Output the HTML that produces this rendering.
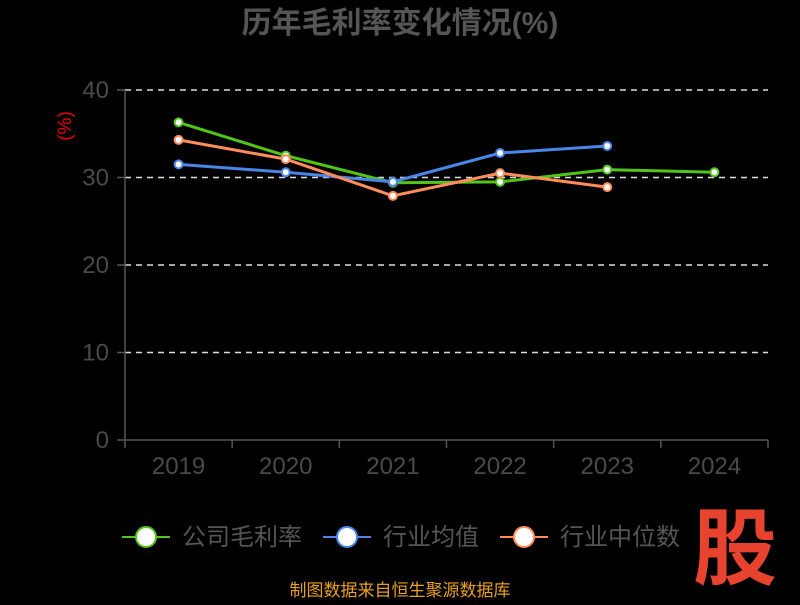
<!DOCTYPE html>
<html><head><meta charset="utf-8"><style>
body{margin:0;background:#000;width:800px;height:600px;overflow:hidden;font-family:"Liberation Sans","Noto Sans CJK SC",sans-serif}
</style></head><body>
<svg id="c" width="800" height="600" xmlns="http://www.w3.org/2000/svg">
<text x="400" y="33" text-anchor="middle" font-size="30" font-weight="bold" fill="#555">历年毛利率变化情况(%)</text>
<text transform="translate(66,126) rotate(-90)" text-anchor="middle" font-size="19" fill="#e00" dominant-baseline="middle">(%)</text>
<g id="grid"></g><g id="axes"></g><g id="series"></g>
<g>
 <g><line x1="122" y1="537" x2="170" y2="537" stroke="#52c41a" stroke-width="2"/><circle cx="146" cy="537" r="10" fill="#fff" stroke="#52c41a" stroke-width="2"/><text x="182" y="545" font-size="24" fill="#555">公司毛利率</text></g>
 <g><line x1="323" y1="537" x2="371" y2="537" stroke="#4a86e8" stroke-width="2"/><circle cx="347" cy="537" r="10" fill="#fff" stroke="#4a86e8" stroke-width="2"/><text x="383" y="545" font-size="24" fill="#555">行业均值</text></g>
 <g><line x1="500" y1="537" x2="548" y2="537" stroke="#ff8c5a" stroke-width="2"/><circle cx="524" cy="537" r="10" fill="#fff" stroke="#ff8c5a" stroke-width="2"/><text x="560" y="545" font-size="24" fill="#555">行业中位数</text></g>
</g>
<text x="735" y="578" text-anchor="middle" font-size="84" font-weight="bold" fill="#e8432e">股</text>
<text x="400" y="596" text-anchor="middle" font-size="17" fill="#e8a020">制图数据来自恒生聚源数据库</text>
</svg>
<script>
const categories=["2019","2020","2021","2022","2023","2024"];
const yTicks=[0,10,20,30,40];
const company=[36.3,32.5,29.4,29.5,30.9,30.6];
const industryMean=[31.5,30.6,29.5,32.8,33.6];
const industryMedian=[34.3,32.1,27.9,30.5,28.9];
const NS="http://www.w3.org/2000/svg";
const x0=125,x1=768,yBase=440,yTop=90,yMax=40;
const step=(x1-x0)/categories.length;
const xs=i=>x0+step*(i+0.5);
const ys=v=>yBase-(v/yMax)*(yBase-yTop);
function mk(t,a,p){const e=document.createElementNS(NS,t);for(const k in a)e.setAttribute(k,a[k]);p.appendChild(e);return e;}
const grid=document.getElementById('grid'),axes=document.getElementById('axes'),ser=document.getElementById('series');
yTicks.forEach(v=>{
 if(v>0){const l=mk('line',{x1:x0,x2:x1,y1:ys(v),y2:ys(v),stroke:'#ddd','stroke-width':1.5,'stroke-dasharray':'6,5'},grid);
 
 }
 const tk=mk('line',{x1:x0-8,x2:x0,y1:ys(v),y2:ys(v),stroke:'#555','stroke-width':1.5},axes);
 
 
 const t=mk('text',{x:x0-16,y:ys(v)+8,'text-anchor':'end','font-size':24,fill:'#4a4a4a'},axes);t.textContent=v;
 
 
});
const ya=mk('line',{x1:x0,x2:x0,y1:yTop,y2:yBase,stroke:'#555','stroke-width':1.5},axes);


const xa=mk('line',{x1:x0,x2:x1,y1:yBase,y2:yBase,stroke:'#555','stroke-width':1.5},axes);


for(let i=0;i<=categories.length;i++){const t=mk('line',{x1:x0+step*i,x2:x0+step*i,y1:yBase,y2:yBase+8,stroke:'#555','stroke-width':1.5},axes);
 
 }
categories.forEach((c,i)=>{const t=mk('text',{x:xs(i),y:474,'text-anchor':'middle','font-size':24,fill:'#4a4a4a'},axes);t.textContent=c;
 
 });
function series(vals,color,name){
 const g=mk('g',{},ser);
 
 
 const p=mk('polyline',{points:vals.map((v,i)=>xs(i)+','+ys(v)).join(' '),fill:'none',stroke:color,'stroke-width':3},g);
 
 
 vals.forEach((v,i)=>{const c=mk('circle',{cx:xs(i),cy:ys(v),r:4,fill:'#fff',stroke:color,'stroke-width':2},g);
  
  });
}
series(company,'#52c41a','company-margin');
series(industryMean,'#4a86e8','industry-mean');
series(industryMedian,'#ff8c5a','industry-median');
</script>
</body></html>
